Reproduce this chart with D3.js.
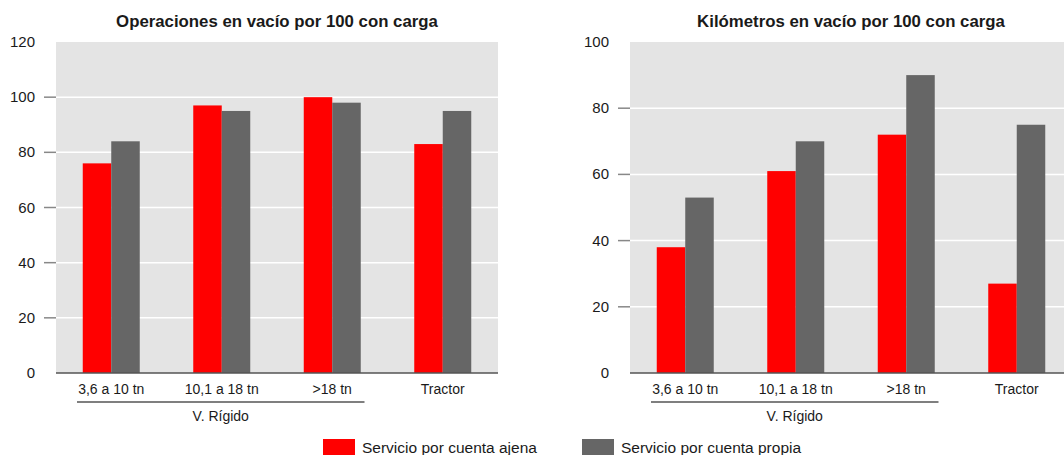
<!DOCTYPE html>
<html><head><meta charset="utf-8">
<script src="https://cdn.jsdelivr.net/npm/d3@7"></script>
<style>
html,body{margin:0;padding:0;background:#fff;overflow:hidden}
text{font-family:"Liberation Sans",Arial,sans-serif;fill:#1a1a1a}
</style></head>
<body>
<svg id="c" width="1064" height="455"></svg>
<script>
const categories = ["3,6 a 10 tn", "10,1 a 18 tn", ">18 tn", "Tractor"];
const groupLabel = "V. Rígido";
const seriesNames = ["Servicio por cuenta ajena", "Servicio por cuenta propia"];
const seriesColors = ["#ff0000", "#666666"];
const title1 = "Operaciones en vacío por 100 con carga";
const ajena1 = [76, 97, 100, 83];
const propia1 = [84, 95, 98, 95];
const ticks1 = [0, 20, 40, 60, 80, 100, 120];
const title2 = "Kilómetros en vacío por 100 con carga";
const ajena2 = [38, 61, 72, 27];
const propia2 = [53, 70, 90, 75];
const ticks2 = [0, 20, 40, 60, 80, 100];

const svg = d3.select("#c");
const plotTop = 42, plotBottom = 373;

function drawChart(left, width, title, series, ticks) {
  const g = svg.append("g");
  const x = d3.scaleBand().domain(categories).range([left, left + width]);
  const xs = d3.scaleBand().domain([0, 1]).range([0, 57]);
  const maxV = ticks[ticks.length - 1];
  const y = d3.scaleLinear().domain([0, maxV]).range([plotBottom, plotTop]);

  g.append("rect").attr("x", left).attr("y", plotTop).attr("width", width)
    .attr("height", plotBottom - plotTop).attr("fill", "#e4e4e4");

  const inner = ticks.filter(t => t !== 0 && t !== maxV);
  g.selectAll(".grid").data(inner).join("line")
    .attr("x1", left).attr("x2", left + width)
    .attr("y1", d => y(d)).attr("y2", d => y(d))
    .attr("stroke", "#ffffff").attr("stroke-width", 1.5);
  g.selectAll(".tk").data(inner).join("line")
    .attr("x1", left - 12).attr("x2", left)
    .attr("y1", d => y(d)).attr("y2", d => y(d))
    .attr("stroke", "#888").attr("stroke-width", 1.5);
  g.selectAll(".tl").data(ticks).join("text")
    .attr("x", left - 21).attr("y", d => y(d) + 5)
    .attr("text-anchor", "end").attr("font-size", 15).text(d => d);

  series.forEach((vals, si) => {
    g.selectAll(".b" + si).data(vals).join("rect")
      .attr("x", (d, i) => x(categories[i]) + x.bandwidth() / 2 - 28.5 + xs(si))
      .attr("y", d => y(d)).attr("width", xs.bandwidth())
      .attr("height", d => plotBottom - y(d)).attr("fill", seriesColors[si]);
  });

  g.append("line").attr("x1", left).attr("x2", left + width)
    .attr("y1", plotBottom).attr("y2", plotBottom).attr("stroke", "#555").attr("stroke-width", 1.5);

  g.selectAll(".cl").data(categories).join("text")
    .attr("x", d => x(d) + x.bandwidth() / 2).attr("y", 394)
    .attr("text-anchor", "middle").attr("font-size", 14).text(d => d);

  const bx1 = x(categories[0]) + 21, bx2 = x(categories[2]) + x.bandwidth() - 23;
  g.append("line").attr("x1", bx1).attr("x2", bx2).attr("y1", 402).attr("y2", 402)
    .attr("stroke", "#555").attr("stroke-width", 1.5);
  g.append("text").attr("x", (bx1 + bx2) / 2).attr("y", 421)
    .attr("text-anchor", "middle").attr("font-size", 14).text(groupLabel);

  g.append("text").attr("x", left + width / 2).attr("y", 27)
    .attr("text-anchor", "middle").attr("font-size", 16.8).attr("font-weight", "bold").text(title);
}

drawChart(56, 442, title1, [ajena1, propia1], ticks1);
drawChart(630, 442, title2, [ajena2, propia2], ticks2);

const legX = [323, 582];
seriesNames.forEach((n, i) => {
  svg.append("rect").attr("x", legX[i]).attr("y", 439).attr("width", 32).attr("height", 18)
    .attr("fill", seriesColors[i]);
  svg.append("text").attr("x", legX[i] + 39).attr("y", 453).attr("font-size", 15.5).text(n);
});
</script>
</body></html>
